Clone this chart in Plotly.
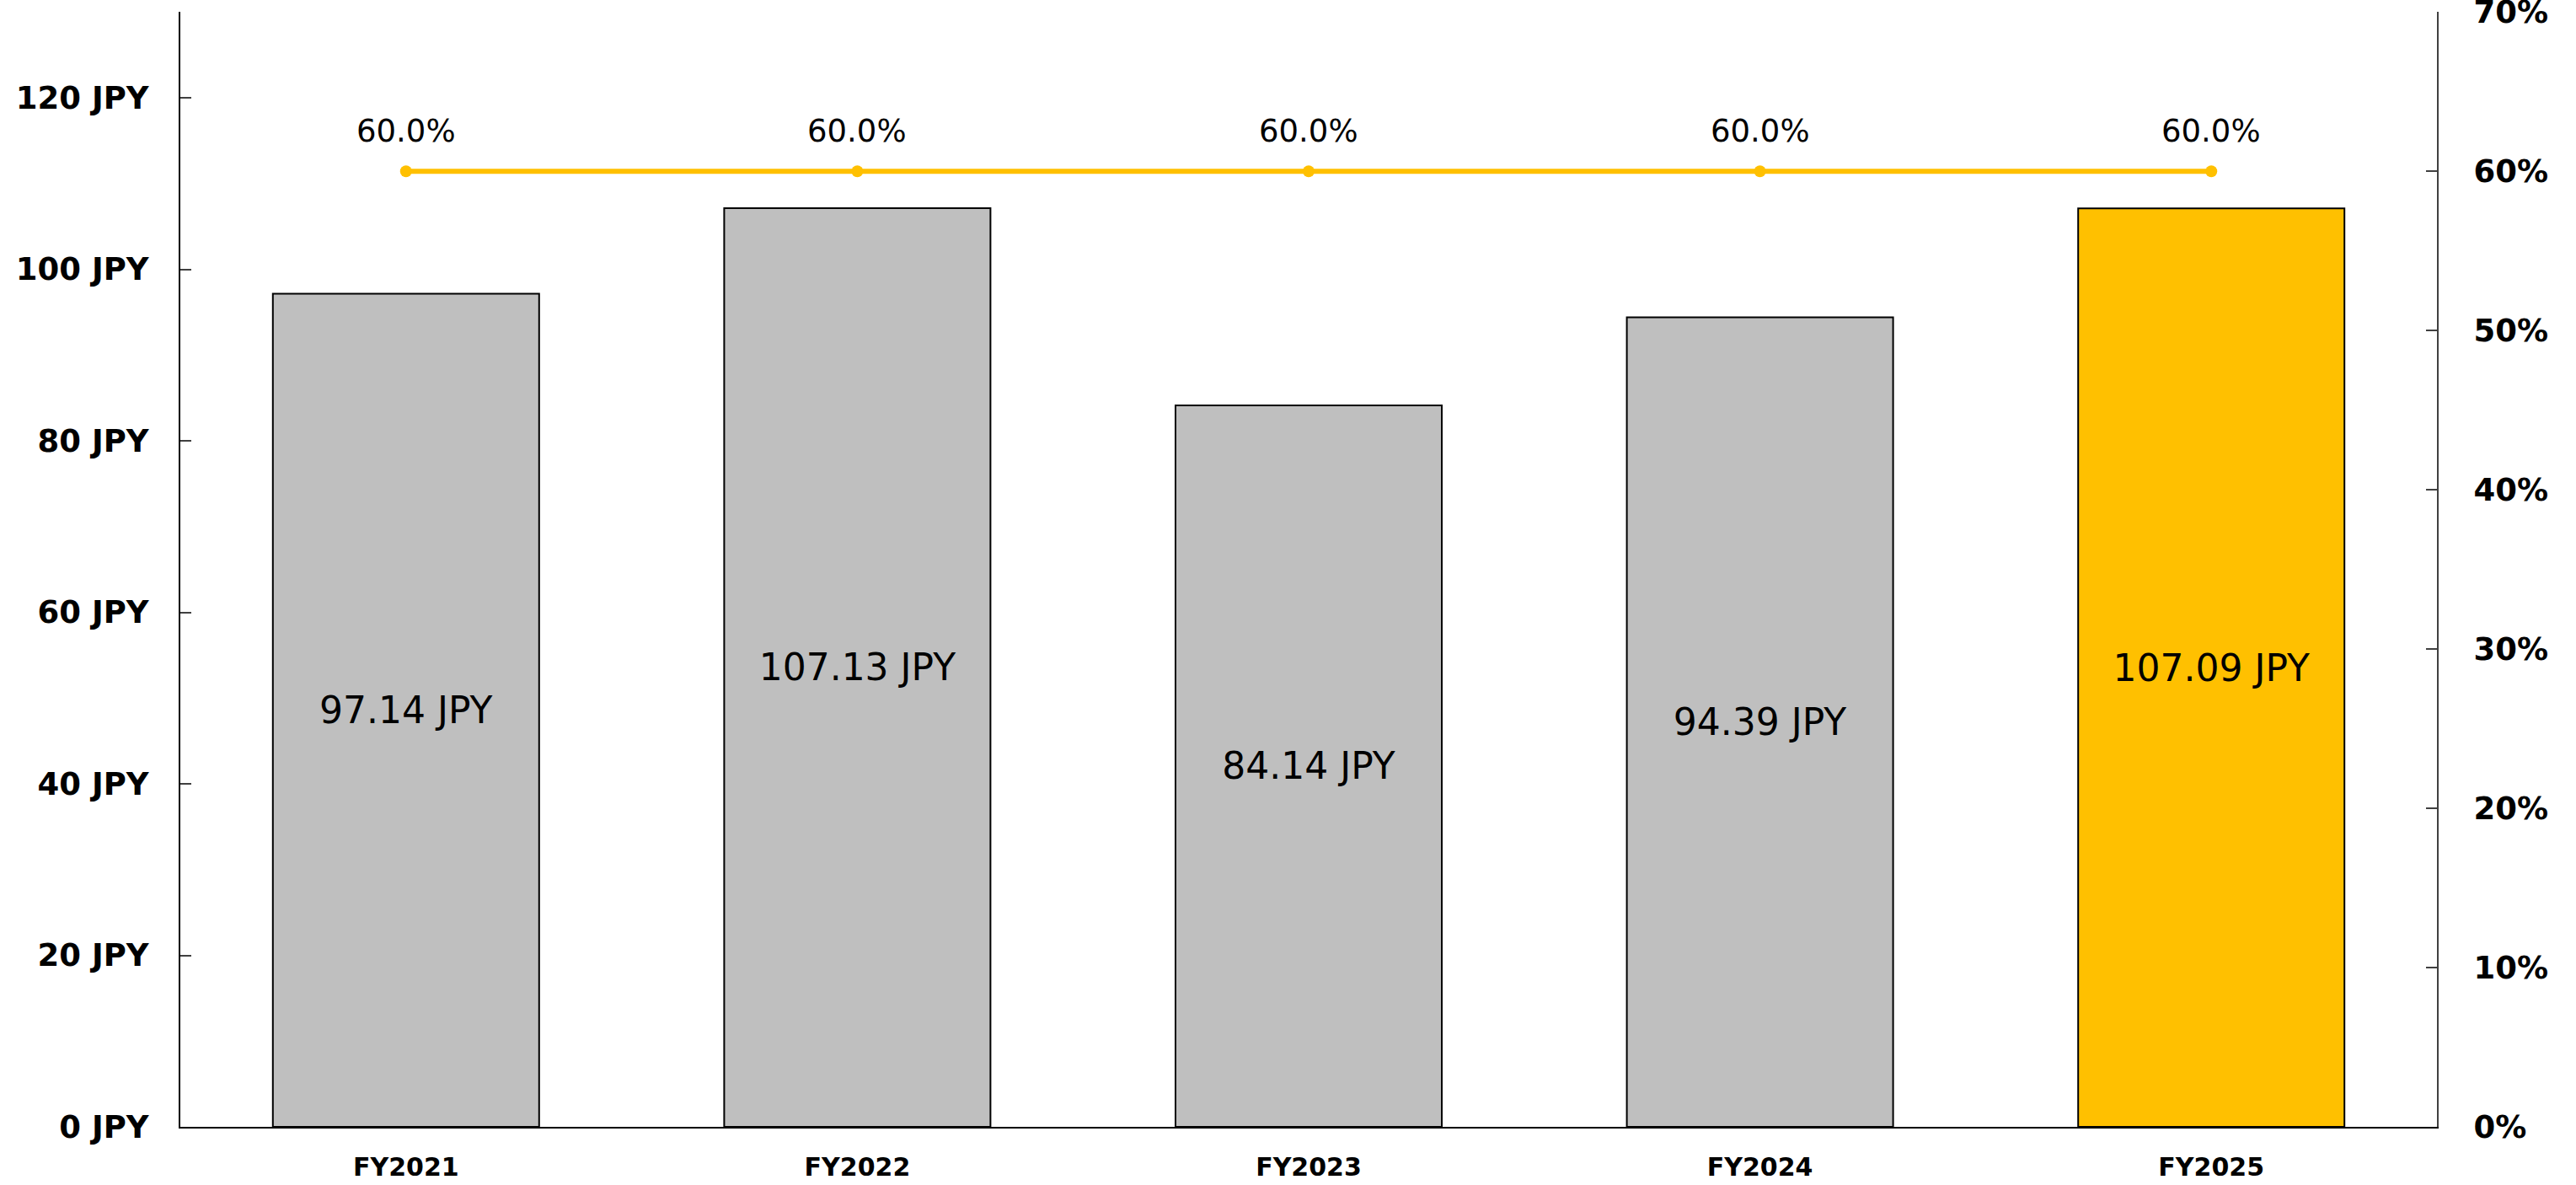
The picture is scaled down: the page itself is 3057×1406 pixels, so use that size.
import plotly.graph_objects as go

# Fiscal years, dividend per share (JPY) and payout ratio
years = ["FY2021", "FY2022", "FY2023", "FY2024", "FY2025"]
dividend_jpy = [97.14, 107.13, 84.14, 94.39, 107.09]
payout_ratio = [0.60, 0.60, 0.60, 0.60, 0.60]
bar_colors = ["#BFBFBF", "#BFBFBF", "#BFBFBF", "#BFBFBF", "#FFC000"]

left_ticks = [0, 20, 40, 60, 80, 100, 120]
left_tick_text = [f"{v} JPY" for v in left_ticks]
right_ticks = [0, 0.1, 0.2, 0.3, 0.4, 0.5, 0.6, 0.7]
right_tick_text = [f"{round(v * 100)}%" for v in right_ticks]

FONT = "DejaVu Sans"
EPS = 1.0002  # keep the top tick inside the axis range

fig = go.Figure()

fig.add_trace(go.Bar(
    x=years,
    y=dividend_jpy,
    marker=dict(color=bar_colors, line=dict(color="#000000", width=2)),
    texttemplate="%{y:.2f} JPY",
    textposition="inside",
    insidetextanchor="middle",
    textangle=0,
    textfont=dict(family=FONT, size=44, color="#000000"),
    hoverinfo="skip",
    showlegend=False,
))

fig.add_trace(go.Scatter(
    x=years,
    y=payout_ratio,
    yaxis="y2",
    mode="lines+markers",
    line=dict(color="#FFC000", width=6),
    marker=dict(color="#FFC000", size=14),
    hoverinfo="skip",
    showlegend=False,
))

# Payout ratio labels above each point
for yr, p in zip(years, payout_ratio):
    fig.add_annotation(
        x=yr, y=p, yref="y2",
        text=f"{p * 100:.1f}%",
        showarrow=False,
        yanchor="middle",
        yshift=48,
        font=dict(family=FONT, size=37, color="#000000"),
    )

fig.update_layout(
    width=3057,
    height=1406,
    margin=dict(l=214, r=165, t=14, b=69, pad=0),
    paper_bgcolor="#FFFFFF",
    plot_bgcolor="#FFFFFF",
    bargap=0.41,
    font=dict(family=FONT, color="#000000"),
    xaxis=dict(
        automargin=False,
        showline=True,
        linecolor="#000000",
        linewidth=2,
        ticks="",
        showgrid=False,
        tickfont=dict(family=FONT, size=30, color="#000000", weight="bold"),
        ticklabelstandoff=20,
    ),
    yaxis=dict(
        automargin=False,
        range=[0, 130 * EPS],
        tickvals=left_ticks,
        ticktext=left_tick_text,
        showline=True,
        linecolor="#000000",
        linewidth=2,
        ticks="inside",
        ticklen=13,
        tickwidth=2,
        tickcolor="#404040",
        showgrid=False,
        zeroline=False,
        tickfont=dict(family=FONT, size=37, color="#000000", weight="bold"),
        ticklabelstandoff=28,
    ),
    yaxis2=dict(
        automargin=False,
        overlaying="y",
        side="right",
        range=[0, 0.7 * EPS],
        tickvals=right_ticks,
        ticktext=right_tick_text,
        ticklabeloverflow="allow",
        showline=True,
        linecolor="#404040",
        linewidth=2,
        ticks="inside",
        ticklen=13,
        tickwidth=2,
        tickcolor="#404040",
        showgrid=False,
        zeroline=False,
        tickfont=dict(family=FONT, size=37, color="#000000", weight="bold"),
        ticklabelstandoff=34,
    ),
)

fig.write_html("out.html")
